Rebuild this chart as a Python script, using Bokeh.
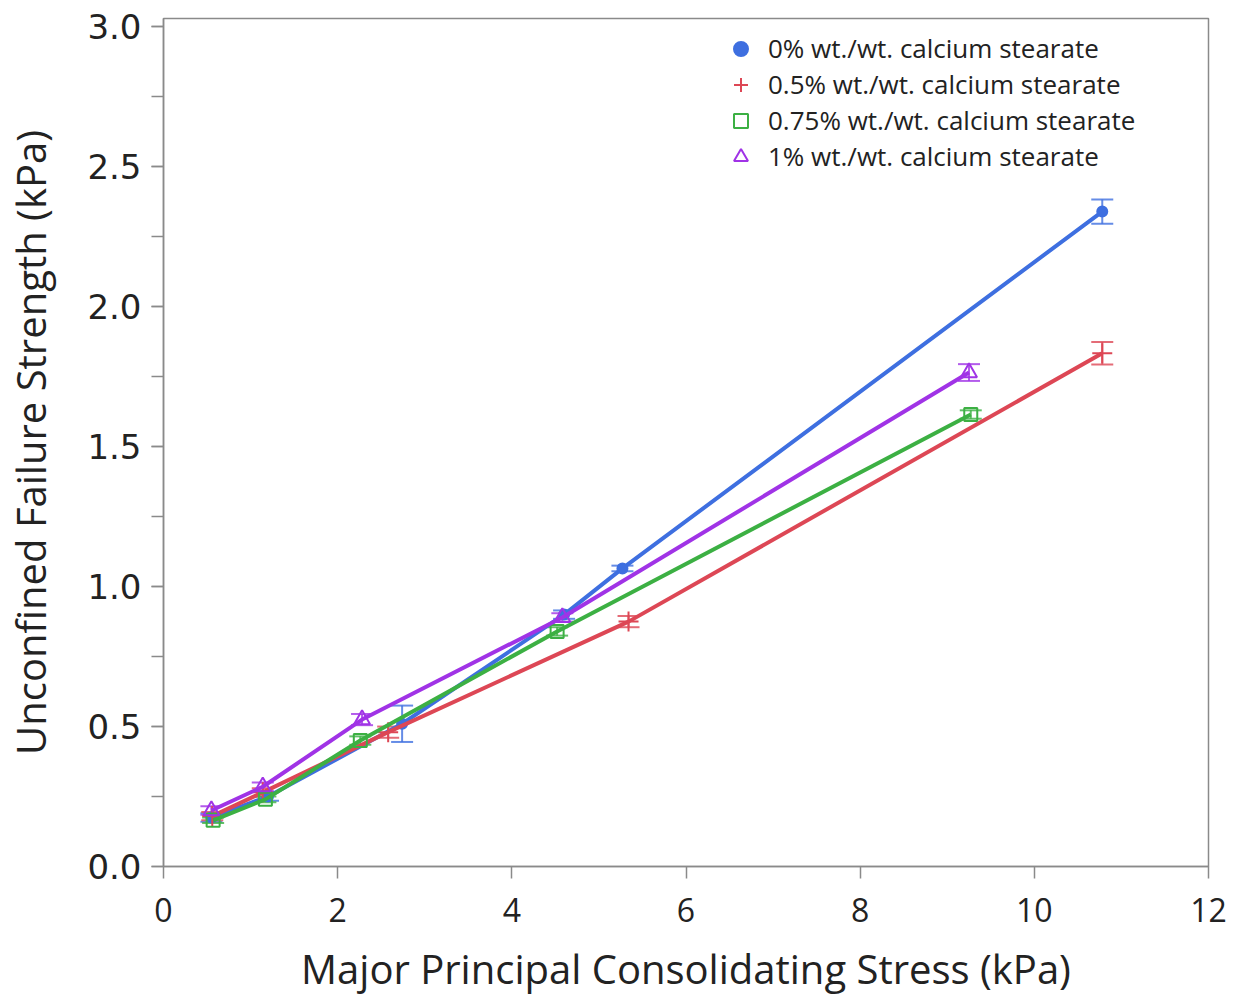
from bokeh.plotting import figure
from bokeh.models import (ColumnDataSource, Whisker, TeeHead, Legend, LegendItem,
                          SingleIntervalTicker, Range1d, PrintfTickFormatter)
from bokeh.embed import file_html
from bokeh.resources import INLINE

# Major principal consolidating stress (kPa) and unconfined failure strength (kPa)
x_0 = [0.55, 1.20, 2.74, 4.60, 5.27, 10.78]
y_0 = [0.175, 0.25, 0.51, 0.90, 1.065, 2.34]
e_0 = [0.015, 0.015, 0.065, 0.015, 0.01, 0.043]

x_05 = [0.56, 1.14, 2.58, 5.34, 10.78]
y_05 = [0.18, 0.265, 0.48, 0.875, 1.834]
e_05 = [0.015, 0.015, 0.02, 0.02, 0.04]

x_075 = [0.57, 1.17, 2.26, 4.52, 9.27]
y_075 = [0.165, 0.24, 0.45, 0.84, 1.615]
e_075 = [0.01, 0.01, 0.015, 0.015, 0.015]

x_1 = [0.55, 1.14, 2.28, 4.58, 9.25]
y_1 = [0.20, 0.285, 0.525, 0.89, 1.765]
e_1 = [0.015, 0.015, 0.02, 0.015, 0.03]

labels = ["0% wt./wt. calcium stearate",
          "0.5% wt./wt. calcium stearate",
          "0.75% wt./wt. calcium stearate",
          "1% wt./wt. calcium stearate"]

x_ticks = [0, 2, 4, 6, 8, 10, 12]

series = [
    (x_0, y_0, e_0, "#3e6fe0", "circle", 10, True),
    (x_05, y_05, e_05, "#dd4755", "cross", 20, False),
    (x_075, y_075, e_075, "#3cb043", "square", 13, False),
    (x_1, y_1, e_1, "#a033e6", "triangle", 16, False),
]

p = figure(width=1240, height=998, output_backend="svg", toolbar_location=None,
           x_range=Range1d(0, 12), y_range=Range1d(0, 3.03),
           min_border_left=163, min_border_right=32, min_border_top=18,
           min_border_bottom=131)

p.xgrid.visible = False
p.ygrid.visible = False
p.outline_line_color = "#8a8a8a"
p.outline_line_width = 1.5
p.background_fill_color = "white"
p.border_fill_color = "white"

items = []
for (xs, ys, es, col, mk, sz, filled), lab in zip(series, labels):
    src = ColumnDataSource(dict(x=xs, y=ys,
                                lo=[a - b for a, b in zip(ys, es)],
                                hi=[a + b for a, b in zip(ys, es)]))
    p.line("x", "y", source=src, line_color=col, line_width=4)
    w = Whisker(source=src, base="x", lower="lo", upper="hi",
                line_color=col, line_width=2, line_alpha=0.8,
                upper_head=TeeHead(size=22, line_color=col, line_width=2, line_alpha=0.8),
                lower_head=TeeHead(size=22, line_color=col, line_width=2, line_alpha=0.8))
    p.add_layout(w)
    r = p.scatter("x", "y", source=src, marker=mk, size=sz, line_color=col,
                  line_width=2, fill_color=col if filled else None)
    items.append(LegendItem(label=lab, renderers=[r]))

legend = Legend(items=items, location=(560, 692),
                label_text_font="Open Sans", label_text_font_size="26px",
                label_text_color="#222222",
                background_fill_alpha=0, border_line_alpha=0,
                spacing=0, padding=0, margin=0,
                glyph_width=35, glyph_height=35, label_standoff=10)
p.add_layout(legend)

# Axes
p.xaxis.ticker = x_ticks
p.yaxis.ticker = SingleIntervalTicker(interval=0.5, num_minor_ticks=2)
p.yaxis.formatter = PrintfTickFormatter(format="%.1f")

for ax in (p.xaxis[0], p.yaxis[0]):
    ax.axis_line_color = "#8a8a8a"
    ax.axis_line_width = 1.5
    ax.major_tick_line_color = "#8a8a8a"
    ax.minor_tick_line_color = "#8a8a8a"
    ax.major_tick_line_width = 1.5
    ax.minor_tick_line_width = 1.5
    ax.major_tick_out = 12
    ax.major_tick_in = 0
    ax.minor_tick_out = 12
    ax.minor_tick_in = 0
    ax.major_label_text_color = "#222222"
    ax.axis_label_text_color = "#222222"
    ax.axis_label_text_font = "Open Sans"
    ax.axis_label_text_font_style = "normal"
    ax.axis_label_text_font_size = "40px"

p.xaxis.minor_tick_line_color = None
p.xaxis.major_label_text_font = "Open Sans"
p.xaxis.major_label_text_font_size = "32px"
p.xaxis.major_label_standoff = 19
p.xaxis.axis_label = "Major Principal Consolidating Stress (kPa)"
p.xaxis.axis_label_standoff = 16

p.yaxis.major_label_text_font = "DejaVu Sans"
p.yaxis.major_label_text_font_size = "34px"
p.yaxis.major_label_standoff = 10
p.yaxis.axis_label = "Unconfined Failure Strength (kPa)"
p.yaxis.axis_label_standoff = 26

open("out.html", "w").write(file_html(p, INLINE))
